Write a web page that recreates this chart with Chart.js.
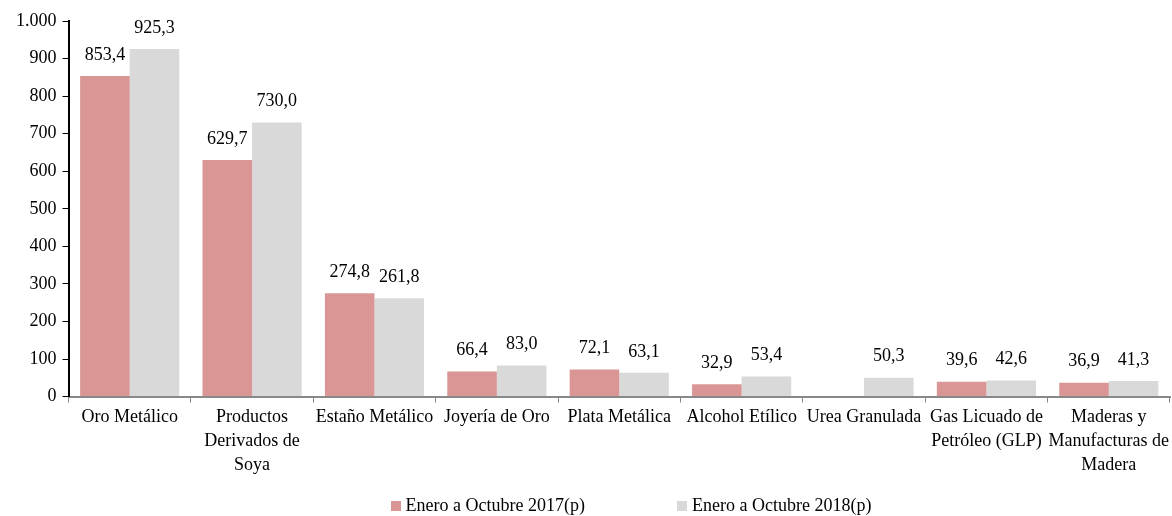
<!DOCTYPE html>
<html>
<head>
<meta charset="utf-8">
<script src="https://cdn.jsdelivr.net/npm/chart.js@4/dist/chart.umd.min.js"></script>
<style>
  html, body { margin: 0; padding: 0; background: #fff; }
  #wrap { position: relative; width: 1172px; height: 516px; overflow: hidden; }
  #legend {
    position: absolute; left: 90px; top: 495px; width: 1082px;
    display: flex; justify-content: center; gap: 92px;
    font: 18px/20px "Liberation Serif", "Times New Roman", serif; color: #000;
  }
  #legend span.box { display: inline-block; width: 10px; height: 10px; margin-right: 5px; }
</style>
</head>
<body>
<div id="wrap">
  <canvas id="exportChart"></canvas>
  <div id="legend"></div>
</div>
<script>
// Categories and series
const categories = [
  "Oro Metálico",
  ["Productos", "Derivados de", "Soya"],
  "Estaño Metálico",
  "Joyería de Oro",
  "Plata Metálica",
  "Alcohol Etílico",
  "Urea Granulada",
  ["Gas Licuado de", "Petróleo (GLP)"],
  ["Maderas y", "Manufacturas de", "Madera"],
];
const values2017 = [853.4, 629.7, 274.8, 66.4, 72.1, 32.9, null, 39.6, 36.9];
const values2018 = [925.3, 730.0, 261.8, 83.0, 63.1, 53.4, 50.3, 42.6, 41.3];
const yTicks = [0, 100, 200, 300, 400, 500, 600, 700, 800, 900, 1000];

const serif = "'Liberation Serif', 'Times New Roman', serif";

// value labels above bars, decimal comma
const barValues = {
  id: "barValues",
  afterDatasetsDraw(chart) {
    const ctx = chart.ctx;
    ctx.save();
    ctx.font = "18px " + serif;
    ctx.fillStyle = "#000";
    ctx.textAlign = "center";
    ctx.textBaseline = "bottom";
    chart.data.datasets.forEach((ds, i) => {
      chart.getDatasetMeta(i).data.forEach((bar, j) => {
        const v = ds.data[j];
        if (v == null) return;
        ctx.fillText(v.toFixed(1).replace(".", ","), bar.x, bar.y - 12);
      });
    });
    ctx.restore();
  },
};

function drawChart() {
  const ctx = document.getElementById("exportChart").getContext("2d");
  const chart = new Chart(ctx, {
    type: "bar",
    data: {
      labels: categories,
      datasets: [
        {
          label: "Enero a Octubre 2017(p)",
          data: values2017,
          backgroundColor: "#D99694",
          categoryPercentage: 0.81,
          barPercentage: 1.0,
        },
        {
          label: "Enero a Octubre 2018(p)",
          data: values2018,
          backgroundColor: "#D9D9D9",
          categoryPercentage: 0.81,
          barPercentage: 1.0,
        },
      ],
    },
    options: {
      responsive: true,
      maintainAspectRatio: false,
      animation: false,
      layout: { padding: { top: 21, right: 2, left: 10, bottom: 36 } },
      plugins: {
        legend: { display: false },
        tooltip: { enabled: false },
      },
      scales: {
        x: {
          grid: {
            display: true,
            drawOnChartArea: false,
            offset: true,
            color: "#888",
            tickLength: 6,
          },
          border: { color: "#888", width: 2 },
          ticks: {
            font: { family: serif, size: 18, lineHeight: 1.36 },
            color: "#000",
            maxRotation: 0,
            autoSkip: false,
            padding: 2,
          },
        },
        y: {
          min: 0,
          max: 1000,
          afterBuildTicks: (axis) => {
            axis.ticks = yTicks.map((v) => ({ value: v }));
          },
          grid: {
            display: true,
            drawOnChartArea: false,
            color: "#000",
            tickLength: 6,
          },
          border: { color: "#000", width: 2 },
          ticks: {
            font: { family: serif, size: 18 },
            color: "#000",
            padding: 6,
            callback: (v) => String(v).replace(/\B(?=(\d{3})+(?!\d))/g, "."),
          },
        },
      },
    },
    plugins: [barValues],
  });

  // legend from the dataset definitions
  const legend = document.getElementById("legend");
  chart.data.datasets.forEach((ds) => {
    const item = document.createElement("div");
    const box = document.createElement("span");
    box.className = "box";
    box.style.background = ds.backgroundColor;
    item.appendChild(box);
    item.appendChild(document.createTextNode(ds.label));
    legend.appendChild(item);
  });
}

document.fonts.load("18px 'Liberation Serif'").then(drawChart, drawChart);
</script>
</body>
</html>
